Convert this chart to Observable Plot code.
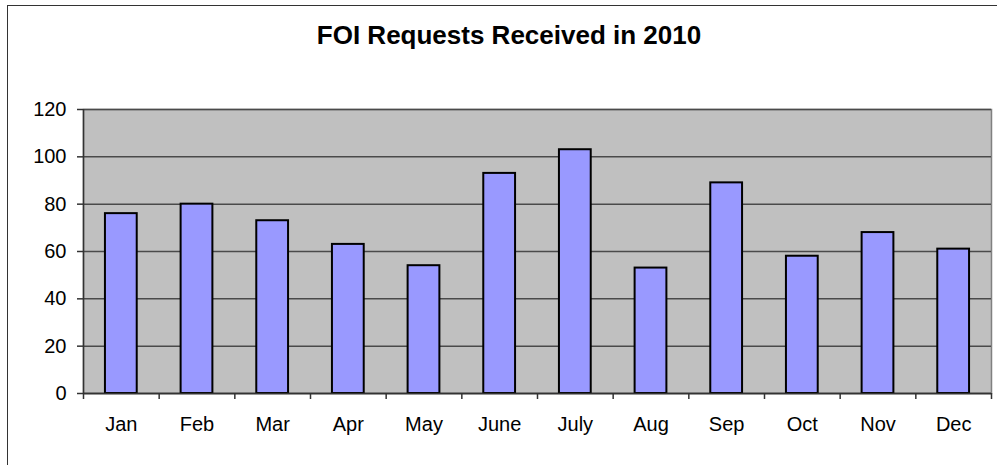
<!DOCTYPE html>
<html>
<head>
<meta charset="utf-8">
<script src="https://cdn.jsdelivr.net/npm/d3@7"></script>
<script src="https://cdn.jsdelivr.net/npm/@observablehq/plot@0.6"></script>
<style>
  html, body { margin: 0; padding: 0; background: #fff; overflow: hidden; }
  #wrap { position: relative; width: 997px; height: 465px; overflow: hidden; }
  #frame { position: absolute; left: 7px; top: 5px; width: 1100px; height: 600px;
           border-left: 1.5px solid #333; border-top: 1.5px solid #333; box-sizing: border-box; }
  #title { position: absolute; left: 209px; width: 600px; top: 22px; text-align: center;
           font: bold 26px/26px "Liberation Sans", Arial, sans-serif; color: #000; }
  #chart { position: absolute; left: 0; top: 0; }
</style>
</head>
<body>
<div id="wrap">
  <div id="frame"></div>
  <div id="title">FOI Requests Received in 2010</div>
  <div id="chart"></div>
</div>
<script>
const months = ["Jan","Feb","Mar","Apr","May","June","July","Aug","Sep","Oct","Nov","Dec"];
const requests = [76, 80, 73, 63, 54, 93, 103, 53, 89, 58, 68, 61];
const yTicks = [0, 20, 40, 60, 80, 100, 120];

const data = months.map((m, i) => ({month: m, value: requests[i]}));

const W = 997, H = 465;
const mL = 83, mR = 6, mT = 109, mB = 72;
const step = (W - mL - mR) / months.length;

const chart = Plot.plot({
  width: W,
  height: H,
  marginLeft: mL,
  marginRight: mR,
  marginTop: mT,
  marginBottom: mB,
  style: {fontFamily: "'Liberation Sans', Arial, sans-serif", fontSize: "20px", color: "#000", background: "transparent"},
  x: {domain: months, paddingInner: 0.58, paddingOuter: 0.29, align: 0.5, round: false, label: null},
  y: {domain: [0, 120], label: null},
  marks: [
    Plot.frame({fill: "#C0C0C0", stroke: "#808080", strokeWidth: 1.5}),
    Plot.gridY(yTicks, {stroke: "#4a4a4a", strokeOpacity: 1, strokeWidth: 1.5}),
    Plot.barY(data, {x: "month", y: "value", fill: "#9999FF", stroke: "#000", strokeWidth: 2}),
    Plot.ruleY([0], {stroke: "#333", strokeWidth: 1.5}),
    Plot.ruleX([months[0]], {dx: -step / 2, stroke: "#333", strokeWidth: 1.5}),
    Plot.axisY({ticks: yTicks, tickSize: 6, tickPadding: 11, fontSize: 20, stroke: "#333", strokeWidth: 1.5, label: null}),
    Plot.axisX({ticks: months, tickSize: 6, dx: -step / 2, tickFormat: () => "", stroke: "#333", strokeWidth: 1.5, label: null}),
    Plot.axisX({ticks: [months[months.length - 1]], tickSize: 6, dx: step / 2, tickFormat: () => "", stroke: "#333", strokeWidth: 1.5, label: null}),
    Plot.axisX({ticks: months, tickSize: 0, tickPadding: 23, fontSize: 20, label: null})
  ]
});
document.getElementById("chart").appendChild(chart);
</script>
</body>
</html>
